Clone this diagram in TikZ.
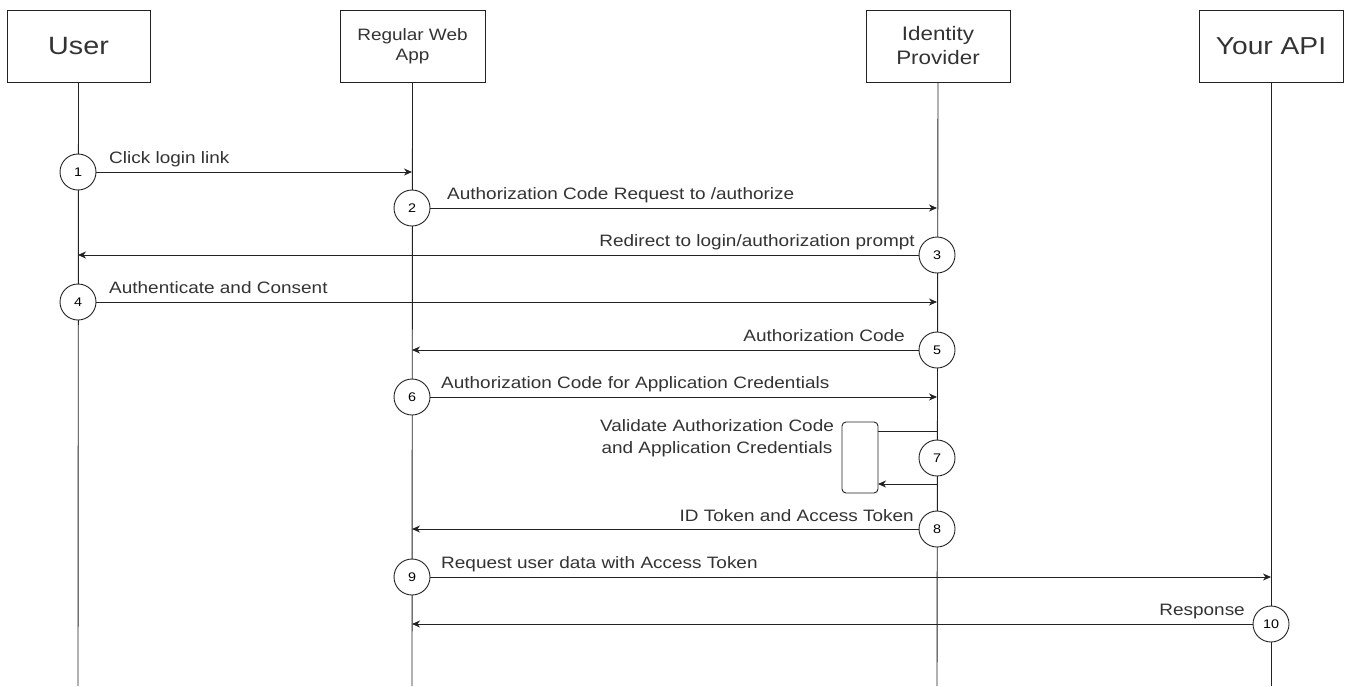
\documentclass[tikz,border=0pt]{standalone}
\usepackage{fontspec}
\setmainfont{Liberation Sans}[FakeStretch=1.15]
\usetikzlibrary{arrows.meta}
\definecolor{txt}{HTML}{333333}
\definecolor{ln}{HTML}{222222}
\begin{document}
\begin{tikzpicture}[x=1pt,y=-1pt,
  head/.style={draw=ln, line width=0.9pt, minimum height=72pt, text=txt, align=center, inner sep=0pt},
  num/.style={circle, draw=ln, fill=white, line width=0.9pt, minimum size=36pt, inner sep=0pt, font=\fontsize{12.5}{13}\selectfont, text=black},
  lbl/.style={inner sep=0pt, text=txt, font=\fontsize{16.5}{22}\selectfont},
  msg/.style={draw=ln, line width=0.9pt, -{Stealth[length=8pt,width=7pt,inset=2.5pt]}},
  plain/.style={draw=ln, line width=0.9pt},
  life/.style={draw=ln, line width=0.9pt}]
\useasboundingbox (0,0) rectangle (1347,686);

% headers
\node[head, minimum width=143pt, font=\fontsize{25}{28}\selectfont] (user) at (78.5,46) {User};
\node[head, minimum width=145pt, font=\fontsize{16.5}{19.5}\selectfont] (app) at (412.5,46) {Regular Web\\App};
\node[head, minimum width=144pt, font=\fontsize{19.5}{24}\selectfont] (idp) at (938,46) {Identity\\Provider};
\node[head, minimum width=144pt, font=\fontsize{24.5}{28}\selectfont] (api) at (1271,46) {Your API};

% lifeline ends
\coordinate (userend) at (78,686);
\coordinate (append) at (412,686);
\coordinate (idpend) at (937,686);
\coordinate (apiend) at (1271,686);
\draw[life] (user.south) -- (userend);
\draw[life] (app.south) -- (append);
\draw[life] (idp.south) -- (idpend);
\draw[life] (api.south) -- (apiend);

% arrow end points on lifelines
\coordinate (e1) at (412,172);
\coordinate (e2) at (937,208);
\coordinate (e3) at (78,255);
\coordinate (e4) at (937,302);
\coordinate (e5) at (412,350);
\coordinate (e6) at (937,397);
\coordinate (e8) at (412,529);
\coordinate (e9) at (1271,577);
\coordinate (e10) at (412,624);
\coordinate (s7a) at (937,431);
\coordinate (s7b) at (937,484);

% step 7 box
\draw[plain, rounded corners=4pt] (842,422) rectangle (878,493);
\coordinate (b7a) at (878,431);
\coordinate (b7b) at (878,484);
\draw[plain] (s7a) -- (b7a);
\draw[msg] (s7b) -- (b7b);

% circles
\node[num] (c1) at (78,172) {1};
\node[num] (c2) at (412,208) {2};
\node[num] (c3) at (937,255) {3};
\node[num] (c4) at (78,302) {4};
\node[num] (c5) at (937,350) {5};
\node[num] (c6) at (412,397) {6};
\node[num] (c7) at (937,458) {7};
\node[num] (c8) at (937,529) {8};
\node[num] (c9) at (412,577) {9};
\node[num] (c10) at (1271,624) {10};

% messages
\draw[msg] (c1.east) -- (e1);
\draw[msg] (c2.east) -- (e2);
\draw[msg] (c3.west) -- (e3);
\draw[msg] (c4.east) -- (e4);
\draw[msg] (c5.west) -- (e5);
\draw[msg] (c6.east) -- (e6);
\draw[msg] (c8.west) -- (e8);
\draw[msg] (c9.east) -- (e9);
\draw[msg] (c10.west) -- (e10);

% labels
\node[lbl, anchor=base west] (l1) at (109,163) {Click login link};
\node[lbl, anchor=base west] (l2) at (447,199) {Authorization Code Request to /authorize};
\node[lbl, anchor=base east] (l3) at (915,246) {Redirect to login/authorization prompt};
\node[lbl, anchor=base west] (l4) at (109,293) {Authenticate and Consent};
\node[lbl, anchor=base east] (l5) at (905,341) {Authorization Code};
\node[lbl, anchor=base west] (l6) at (441,388) {Authorization Code for Application Credentials};
\node[lbl, align=center, anchor=base] (l7) at (717,453) {Validate Authorization Code\\and Application Credentials};
\node[lbl, anchor=base east] (l8) at (914,521) {ID Token and Access Token};
\node[lbl, anchor=base west] (l9) at (441,568) {Request user data with Access Token};
\node[lbl, anchor=base east] (l10) at (1245,615) {Response};
\end{tikzpicture}
\end{document}
